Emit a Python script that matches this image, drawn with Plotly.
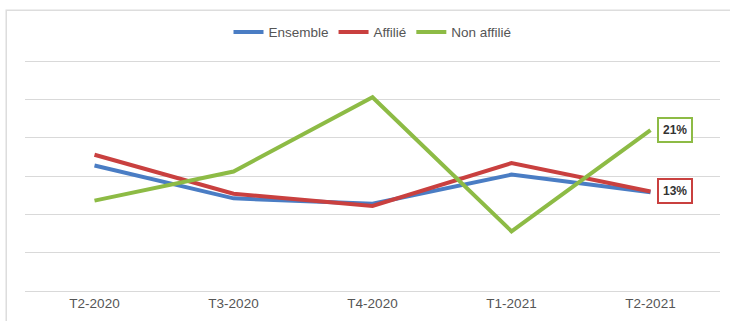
import plotly.graph_objects as go

# Quarterly shares (%) by population
quarters = ["T2-2020", "T3-2020", "T4-2020", "T1-2021", "T2-2021"]
ensemble = [16.4, 12.1, 11.4, 15.2, 12.9]
affilie = [17.8, 12.7, 11.1, 16.7, 13.0]
non_affilie = [11.8, 15.6, 25.3, 7.8, 21.0]

series_names = ["Ensemble", "Affilié", "Non affilié"]
colors = ["#4a7dc4", "#c9403f", "#8dbb45"]

fig = go.Figure()
for name, vals, col in zip(series_names, [ensemble, affilie, non_affilie], colors):
    fig.add_trace(go.Scatter(
        x=quarters, y=vals, name=name, mode="lines",
        line=dict(color=col, width=4),
        hoverinfo="skip",
    ))

# Boxed end-of-series labels
for vals, col in [(non_affilie, colors[2]), (affilie, colors[1])]:
    fig.add_annotation(
        x=quarters[-1], y=vals[-1], text=f"<b>{vals[-1]:.0f}%</b>",
        showarrow=False, xanchor="left", xshift=6,
        font=dict(family="Liberation Sans, Arial, sans-serif", size=12, color="#333333"),
        bgcolor="white", bordercolor=col, borderwidth=2, borderpad=4,
    )

# Outer chart frame
fig.add_shape(type="rect", xref="paper", yref="paper",
              x0=-0.027, x1=1.03, y0=-0.2, y1=1.21,
              line=dict(color="#dddddd", width=1.5), layer="below")

fig.update_layout(
    width=730, height=321,
    margin=dict(l=25, r=10, t=59, b=28),
    paper_bgcolor="white", plot_bgcolor="white",
    font=dict(family="Liberation Sans, Arial, sans-serif", color="#555555"),
    showlegend=True,
    legend=dict(orientation="h", x=0.5, xanchor="center", y=1.115, yanchor="middle",
                font=dict(size=13.5, color="#555555"), itemwidth=30,
                tracegroupgap=0),
)
fig.update_xaxes(
    type="category", range=[-0.5, 4.5], showgrid=False,
    showline=True, linecolor="#d9d9d9", linewidth=1,
    ticks="", tickfont=dict(size=13.5, color="#555555"),
)
fig.update_yaxes(
    range=[0, 30.3], tick0=0, dtick=5, showgrid=True, gridcolor="#d9d9d9", gridwidth=1,
    showticklabels=False, zeroline=False, showline=False,
)

fig.write_html("out.html")
